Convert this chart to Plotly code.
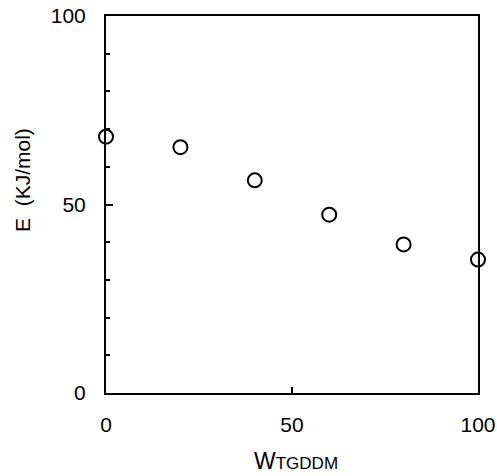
import plotly.graph_objects as go

w_tgddm = [0, 20, 40, 60, 80, 100]
energy = [68, 65.2, 56.4, 47.3, 39.4, 35.4]

x_ticks = [0, 50, 100]
y_ticks = [0, 50, 100]

FONT = "Liberation Sans Narrow, Arial Narrow, Liberation Sans, Arial, sans-serif"

fig = go.Figure()
fig.add_trace(go.Scatter(
    x=w_tgddm, y=energy, mode="markers",
    marker=dict(symbol="circle-open", size=14, color="black", line=dict(width=2, color="black")),
    cliponaxis=False, showlegend=False,
))

fig.update_layout(
    width=497, height=476,
    margin=dict(l=106, r=19, t=16, b=83),
    paper_bgcolor="white", plot_bgcolor="white",
    font=dict(family=FONT, size=21, color="black"),
    xaxis=dict(
        range=[0, 100], tickvals=x_ticks, ticktext=[str(v) for v in x_ticks],
        ticks="inside", ticklen=6, tickwidth=1.5, tickcolor="black",
        showline=True, linewidth=2, linecolor="black", mirror=True,
        showgrid=False, zeroline=False, ticklabelstandoff=12,
        automargin=False, ticklabeloverflow="allow",
    ),
    yaxis=dict(
        range=[0, 100], tickvals=y_ticks, ticktext=[str(v) for v in y_ticks],
        ticks="inside", ticklen=7, tickwidth=1.5, tickcolor="black",
        minor=dict(dtick=10, ticks="inside", ticklen=4, tickwidth=1.5, tickcolor="black", showgrid=False),
        showline=True, linewidth=2, linecolor="black", mirror=True,
        showgrid=False, zeroline=False, ticklabelstandoff=14,
        automargin=False, ticklabeloverflow="allow",
    ),
    annotations=[
        dict(text="E  (KJ/mol)", textangle=-90, xref="paper", yref="paper",
             x=(22 - 106) / 372, y=(393 - 180) / 377, xanchor="center", yanchor="middle",
             showarrow=False, font=dict(family=FONT, size=21, color="black")),
        dict(text="W<span style='font-size:17px'>TGDDM</span>", xref="paper", yref="paper",
             x=(296 - 106) / 372, y=(393 - 461) / 377, xanchor="center", yanchor="middle",
             showarrow=False, font=dict(family=FONT, size=23, color="black")),
    ],
)

fig.write_html("out.html")
